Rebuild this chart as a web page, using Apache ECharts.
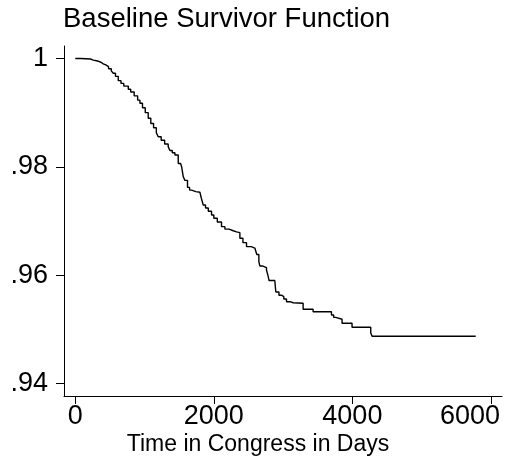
<!DOCTYPE html>
<html>
<head>
<meta charset="utf-8">
<script src="https://cdn.jsdelivr.net/npm/echarts@6/dist/echarts.min.js"></script>
<style>
html,body{margin:0;padding:0;background:#fff;}
#c{width:507px;height:466px;}
</style>
</head>
<body>
<div id="c"></div>
<script>
// Time in Congress (days)
var times = [0,80,150,220,260,320,370,404,440,480,520,548,580,620,660,700,765,800,850,900,933,970,1010,1053,1090,1130,1170,1197,1240,1290,1341,1366,1400,1438,1486,1520,1535,1558,1582,1620,1650,1679,1740,1799,1820,1847,1880,1920,1967,2000,2050,2111,2160,2220,2280,2328,2376,2420,2472,2540,2592,2620,2650,2664,2700,2760,2780,2798,2880,2895,2940,2977,3010,3049,3100,3145,3289,3433,3698,3730,3760,3851,3995,4265,4284,5780];
// Baseline survivor function values
var survival = [1.0,0.99995,0.9999,0.9997,0.99954,0.9993,0.9990,0.9988,0.9985,0.9981,0.9977,0.99727,0.9967,0.9959,0.9954,0.9949,0.99431,0.9938,0.9931,0.9923,0.99173,0.9909,0.9900,0.98896,0.9880,0.9872,0.9863,0.98556,0.9849,0.9842,0.98372,0.9830,0.9826,0.98218,0.9806,0.9803,0.98002,0.9782,0.9775,0.9762,0.9757,0.97541,0.9753,0.97511,0.9742,0.97295,0.9724,0.9718,0.97111,0.9705,0.9698,0.96895,0.9685,0.9682,0.9680,0.96784,0.96681,0.9660,0.96526,0.9650,0.96477,0.9638,0.9625,0.96170,0.9614,0.96095,0.9600,0.9590,0.95868,0.95690,0.9563,0.95602,0.9556,0.9551,0.9549,0.9548,0.9537,0.95325,0.95265,0.9522,0.95185,0.95111,0.95037,0.94938,0.94871,0.94871];
var xTicks = [0,2000,4000,6000];
var yTicks = [0.94,0.96,0.98,1];
var yTickLabels = {'0.94':'.94','0.96':'.96','0.98':'.98','1':'1'};
var titleText = 'Baseline Survivor Function';
var xTitle = 'Time in Congress in Days';

var FONT = '"Liberation Sans", Arial, Helvetica, sans-serif';
var pts = times.map(function(t,i){return [t, survival[i]];});
var xMaxTick = xTicks[xTicks.length-1];
var chart = echarts.init(document.getElementById('c'), null, {renderer:'canvas'});
chart.setOption({
  animation:false,
  backgroundColor:'#fff',
  title:{text:titleText,left:63,top:5,padding:0,
    textStyle:{fontFamily:FONT,fontSize:27.5,fontWeight:'normal',color:'#000'}},
  grid:{left:64,top:46,right:5,bottom:70,containLabel:false,outerBoundsMode:'none'},
  xAxis:{type:'value',min:-163,max:6160,
    axisLine:{show:true,onZero:false,lineStyle:{color:'#000',width:1}},
    axisTick:{show:true,length:8,customValues:xTicks,lineStyle:{color:'#000'}},
    axisLabel:{customValues:xTicks,margin:7,fontFamily:FONT,fontSize:27,color:'#000',
      formatter:function(v){return v===xMaxTick ? '{r|'+v+'}' : String(v);},
      rich:{r:{width:102,align:'left',fontFamily:FONT,fontSize:27,color:'#000'}}},
    splitLine:{show:false}},
  yAxis:{type:'value',min:0.93769,max:1.0023,
    axisLine:{show:true,onZero:false,lineStyle:{color:'#000',width:1}},
    axisTick:{show:true,length:8,customValues:yTicks,lineStyle:{color:'#000'}},
    axisLabel:{customValues:yTicks,margin:16,fontFamily:FONT,fontSize:27,color:'#000',
      formatter:function(v){var k=String(Math.round(v*100)/100);return yTickLabels[k]!==undefined?yTickLabels[k]:k;}},
    splitLine:{show:false}},
  graphic:[{type:'text',x:258,y:433,
    style:{text:xTitle,textAlign:'center',textVerticalAlign:'top',
      font:'23px "Liberation Sans", Arial, sans-serif',fill:'#000'}}],
  series:[{type:'line',data:pts,step:'end',showSymbol:false,
    lineStyle:{color:'#000',width:1.4}}]
});
</script>
</body>
</html>
